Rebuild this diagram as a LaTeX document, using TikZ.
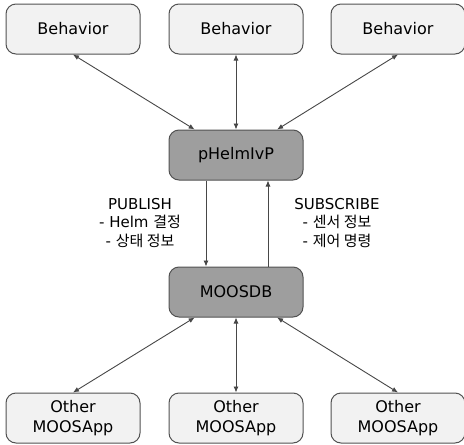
\documentclass[tikz,border=0pt]{standalone}
\usepackage{fontspec}
\setmainfont{DejaVu Sans}
\newfontfamily\kr{Noto Sans CJK KR}
\usetikzlibrary{arrows.meta}

\tikzset{
  module/.style={draw=black!68,line width=1pt,rounded corners=10pt,
    minimum width=134pt,minimum height=50pt,align=center,
    font=\fontsize{16}{20}\selectfont},
  light/.style={module,fill=black!5},
  dark/.style={module,fill=black!38},
  link/.style={draw=black!72,line width=0.9pt,
    {Latex[length=6pt,width=5pt]}-{Latex[length=6pt,width=5pt]}},
  flow/.style={draw=black!72,line width=0.9pt,-{Latex[length=6pt,width=5pt]}},
  note/.style={align=center,font=\fontsize{15}{18.5}\selectfont}
}

\begin{document}
\begin{tikzpicture}[x=1pt,y=-1pt]
	\useasboundingbox (0,0) rectangle (464,445);
	% behaviors
	\node[light] (beh1) at (73,29) {Behavior};
	\node[light] (beh2) at (236,29) {Behavior};
	\node[light] (beh3) at (398,29) {Behavior};
	% helm and database
	\node[dark] (helm) at (236,155) {pHelmIvP};
	\node[dark] (db) at (236,292) {MOOSDB};
	% other apps
	\node[light] (app1) at (73,418) {Other\\MOOSApp};
	\node[light] (app2) at (236,418) {Other\\MOOSApp};
	\node[light] (app3) at (398,418) {Other\\MOOSApp};

	\draw[link] (beh1.south) -- (helm);
	\draw[link] (beh2.south) -- (helm.north);
	\draw[link] (beh3.south) -- (helm);

	\draw[flow] ([xshift=-30pt]helm.south) -- ([xshift=-30pt]db.north);
	\draw[flow] ([xshift=32pt]db.north) -- ([xshift=32pt]helm.south);
	\node[note] (pub) at (140,223) {PUBLISH\\- Helm {\kr 결정}\\- {\kr 상태 정보}};
	\node[note] (sub) at (337,223) {SUBSCRIBE\\- {\kr 센서 정보}\\- {\kr 제어 명령}};

	\draw[link] (app1.north) -- (db);
	\draw[link] (app2.north) -- (db.south);
	\draw[link] (app3.north) -- (db);
\end{tikzpicture}
\end{document}
